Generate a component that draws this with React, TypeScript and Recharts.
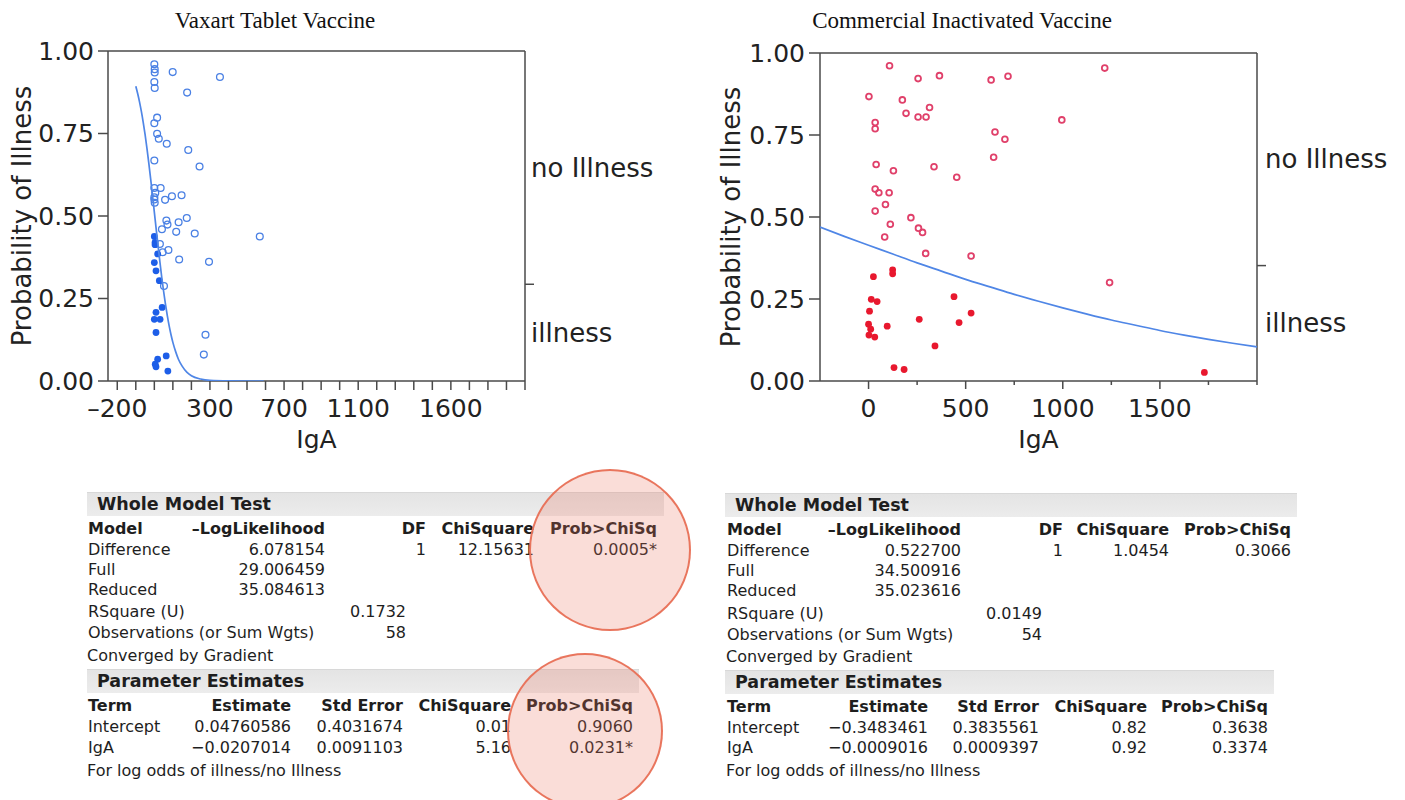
import React from 'react';
import { ScatterChart, Scatter, XAxis, YAxis, ReferenceLine } from 'recharts';

// ---------- DATA ----------
// Vaxart Tablet Vaccine
const vaxOpenIgA = [0, 2, 2, 99, 354, 0, 2, 177, 15, 0, 15, 24, 67, 183, 244, 0, 0, 34, 0, 2, 5, 58, 95, 147, 175, 131, 65, 71, 41, 118, 218, 569, 30, 45, 76, 134, 295, 52, 276, 267, 0];
const vaxOpenProb = [0.96, 0.945, 0.935, 0.936, 0.921, 0.906, 0.888, 0.874, 0.798, 0.781, 0.749, 0.734, 0.719, 0.7, 0.65, 0.668, 0.585, 0.585, 0.557, 0.54, 0.57, 0.549, 0.56, 0.563, 0.494, 0.481, 0.486, 0.474, 0.46, 0.452, 0.447, 0.438, 0.415, 0.39, 0.397, 0.368, 0.361, 0.288, 0.14, 0.08, 0.55];
const vaxFilledIgA = [0, 4, 4, 18, 0, 9, 27, 42, 9, 0, 31, 9, 64, 18, 5, 9, 73];
const vaxFilledProb = [0.438, 0.42, 0.413, 0.385, 0.359, 0.334, 0.304, 0.223, 0.208, 0.187, 0.187, 0.147, 0.076, 0.066, 0.051, 0.043, 0.03];
const vaxCurveIgA = [-100, -90, -80, -70, -60, -50, -40, -30, -20, -10, 0, 10, 20, 30, 40, 50, 60, 70, 80, 90, 100, 115, 130, 150, 175, 200, 250, 300, 400, 500, 590];
const vaxCurveProb = [0.893, 0.871, 0.846, 0.817, 0.784, 0.747, 0.706, 0.661, 0.613, 0.563, 0.512, 0.46, 0.41, 0.361, 0.314, 0.272, 0.233, 0.198, 0.167, 0.14, 0.117, 0.089, 0.066, 0.045, 0.027, 0.016, 0.006, 0.002, 0.0003, 0.0, 0.0];
const vaxXTicks = [-200, -100, 0, 100, 200, 300, 400, 500, 600, 700, 800, 900, 1000, 1100, 1200, 1300, 1400, 1500, 1600, 1700, 1800, 1900, 2000];
const vaxXLabels = [-200, 300, 700, 1100, 1600];
const vaxIllCount = 17;
const vaxTotal = 58;

// Commercial Inactivated Vaccine
const comOpenIgA = [108, 255, 365, 631, 718, 1216, 2, 174, 193, 255, 296, 314, 34, 34, 995, 651, 702, 644, 39, 128, 337, 454, 34, 53, 106, 87, 34, 218, 112, 257, 278, 83, 294, 528, 1241];
const comOpenProb = [0.961, 0.922, 0.931, 0.918, 0.929, 0.954, 0.867, 0.857, 0.816, 0.805, 0.805, 0.834, 0.788, 0.769, 0.796, 0.759, 0.737, 0.682, 0.66, 0.641, 0.653, 0.621, 0.585, 0.574, 0.574, 0.538, 0.518, 0.498, 0.478, 0.466, 0.453, 0.439, 0.389, 0.381, 0.3];
const comFilledIgA = [25, 124, 124, 14, 44, 5, 0, 11, 2, 32, 96, 261, 466, 528, 440, 342, 131, 183, 1729];
const comFilledProb = [0.318, 0.339, 0.327, 0.249, 0.242, 0.213, 0.173, 0.158, 0.14, 0.134, 0.167, 0.188, 0.178, 0.207, 0.257, 0.107, 0.041, 0.035, 0.026];
const comCurveIgA = [-250, -125, 0, 125, 250, 375, 500, 625, 750, 875, 1000, 1125, 1250, 1375, 1500, 1625, 1750, 1875, 2000];
const comCurveProb = [0.469, 0.441, 0.414, 0.387, 0.36, 0.335, 0.31, 0.287, 0.264, 0.243, 0.223, 0.204, 0.186, 0.17, 0.154, 0.14, 0.127, 0.115, 0.104];
const comXTicks = [0, 250, 500, 750, 1000, 1250, 1500, 1750, 2000];
const comXLabels = [0, 500, 1000, 1500];
const comIllCount = 19;
const comTotal = 54;

const probTicks = [0, 0.25, 0.5, 0.75, 1];
const xDomain = [-250, 2000];

// Tables
const vaxWholeModel = [
  ['Difference', '6.078154', '1', '12.15631', '0.0005*'],
  ['Full', '29.006459', '', '', ''],
  ['Reduced', '35.084613', '', '', ''],
];
const vaxFit = [['RSquare (U)', '0.1732'], ['Observations (or Sum Wgts)', '58']];
const vaxParams = [
  ['Intercept', '0.04760586', '0.4031674', '0.01', '0.9060'],
  ['IgA', '\u22120.0207014', '0.0091103', '5.16', '0.0231*'],
];
const comWholeModel = [
  ['Difference', '0.522700', '1', '1.0454', '0.3066'],
  ['Full', '34.500916', '', '', ''],
  ['Reduced', '35.023616', '', '', ''],
];
const comFit = [['RSquare (U)', '0.0149'], ['Observations (or Sum Wgts)', '54']];
const comParams = [
  ['Intercept', '\u22120.3483461', '0.3835561', '0.82', '0.3638'],
  ['IgA', '\u22120.0009016', '0.0009397', '0.92', '0.3374'],
];
const wholeModelHeader = ['Model', '\u2013LogLikelihood', 'DF', 'ChiSquare', 'Prob>ChiSq'];
const paramHeader = ['Term', 'Estimate', 'Std Error', 'ChiSquare', 'Prob>ChiSq'];

// ---------- STYLE ----------
const SANS = '"DejaVu Sans", Verdana, sans-serif';
const AXIS = '#4a4a4a';
const TXT = '#222';
const TICK_FS = 25;

const zip = (xs: number[], ys: number[]) => xs.map((x, i) => ({ x, y: ys[i] }));
const fmtX = (v: number) => (v < 0 ? '\u2013' + Math.abs(v) : String(v));

const makeXTick = (labels: number[], majorLen: number, minorLen: number, labelGap: number) => (props: any) => {
  const { x, y, payload } = props;
  const v = payload.value;
  const major = labels.includes(v);
  return (
    <g>
      <line x1={x} x2={x} y1={y} y2={y + (major ? majorLen : minorLen)} stroke={AXIS} strokeWidth={1.5} />
      {major && (
        <text x={x} y={y + labelGap} textAnchor="middle" dominantBaseline="hanging" fontSize={TICK_FS} fontFamily={SANS} fill={TXT}>
          {fmtX(v)}
        </text>
      )}
    </g>
  );
};

const makeCatTick = (split: number, gap: number) => (props: any) => {
  const { x, y, payload } = props;
  const v = payload.value;
  if (Math.abs(v - split) < 1e-9) {
    return <line x1={x} x2={x + 9} y1={y} y2={y} stroke={AXIS} strokeWidth={1.5} />;
  }
  return (
    <text x={x + gap} y={y} dominantBaseline="central" fontSize={26} fontFamily={SANS} fill={TXT}>
      {v > split ? 'no Illness' : 'illness'}
    </text>
  );
};

type PanelProps = {
  width: number;
  height: number;
  top: number;
  bottom: number;
  leftW: number;
  rightW: number;
  ylabelOffset: number;
  ytickSize: number;
  open: { x: number; y: number }[];
  filled: { x: number; y: number }[];
  curve: { x: number; y: number }[];
  xTicks: number[];
  xLabels: number[];
  majorLen: number;
  minorLen: number;
  illFrac: number;
  openColor: string;
  openR: number;
  openSW: number;
  filledColor: string;
  filledR: number;
  catGap: number;
};

function Panel(p: PanelProps) {
  const catTicks = [p.illFrac / 2, p.illFrac, (1 + p.illFrac) / 2];
  return (
    <ScatterChart width={p.width} height={p.height} margin={{ top: p.top, right: 0, bottom: p.bottom, left: 0 }}>
      <XAxis
        type="number"
        dataKey="x"
        domain={xDomain}
        allowDataOverflow
        ticks={p.xTicks}
        interval={0}
        tickSize={0}
        tickMargin={0}
        tickLine={false}
        tick={makeXTick(p.xLabels, p.majorLen, p.minorLen, 18)}
        axisLine={{ stroke: AXIS, strokeWidth: 1.5 }}
        height={70}
        label={{ value: 'IgA', position: 'insideBottom', offset: 3, style: { fontSize: TICK_FS, fontFamily: SANS, fill: TXT } }}
      />
      <YAxis
        yAxisId="p"
        type="number"
        dataKey="y"
        domain={[0, 1]}
        allowDataOverflow
        ticks={probTicks}
        interval={0}
        tickFormatter={(v: number) => v.toFixed(2)}
        tickSize={p.ytickSize}
        tickMargin={4}
        tick={{ fontSize: TICK_FS, fontFamily: SANS, fill: TXT }}
        tickLine={{ stroke: AXIS, strokeWidth: 1.5 }}
        axisLine={{ stroke: AXIS, strokeWidth: 1.5 }}
        width={p.leftW}
        label={{
          value: 'Probability of Illness',
          angle: -90,
          position: 'insideLeft',
          offset: p.ylabelOffset,
          style: { textAnchor: 'middle', fontSize: 26, fontFamily: SANS, fill: TXT },
        }}
      />
      <YAxis
        yAxisId="cat"
        orientation="right"
        type="number"
        dataKey="y"
        domain={[0, 1]}
        allowDataOverflow
        ticks={catTicks}
        interval={0}
        tickSize={0}
        tickMargin={0}
        tickLine={false}
        tick={makeCatTick(p.illFrac, p.catGap)}
        axisLine={{ stroke: AXIS, strokeWidth: 1.5 }}
        width={p.rightW}
      />
      <ReferenceLine yAxisId="p" y={1} stroke={AXIS} strokeWidth={1.5} />
      <Scatter
        yAxisId="p"
        data={p.open}
        isAnimationActive={false}
        shape={(s: any) => <circle cx={s.cx} cy={s.cy} r={p.openR} fill="none" stroke={p.openColor} strokeWidth={p.openSW} />}
      />
      <Scatter
        yAxisId="p"
        data={p.filled}
        isAnimationActive={false}
        shape={(s: any) => <circle cx={s.cx} cy={s.cy} r={p.filledR} fill={p.filledColor} stroke="none" />}
      />
      <Scatter
        yAxisId="cat"
        data={p.curve}
        isAnimationActive={false}
        line={{ stroke: '#4f86e6', strokeWidth: 1.7, fill: 'none' }}
        lineJointType="monotoneX"
        shape={() => <g />}
      />
    </ScatterChart>
  );
}

// ---------- TABLES ----------
type TableLayout = {
  barLeft: number;
  bar1Top: number;
  bar1W: number;
  bar2Top: number;
  bar2W: number;
  textLeft: number;
  wmCols: number[];
  fitCol: number;
  peCols: number[];
  rowsY: number[];
};

const T_FS = 16;

function Txt({ x, y, children, bold, right, size }: any) {
  const fs = size || (bold ? 16 : T_FS);
  const style: React.CSSProperties = {
    position: 'absolute',
    top: y - 11,
    height: 22,
    lineHeight: '22px',
    fontFamily: SANS,
    fontSize: fs,
    fontWeight: bold ? 'bold' : 'normal',
    color: '#1e1e1e',
    whiteSpace: 'nowrap',
  };
  if (right) {
    style.left = x - 300;
    style.width = 300;
    style.textAlign = 'right';
  } else {
    style.left = x;
  }
  return <div style={style}>{children}</div>;
}

function Bar({ left, top, width, title }: any) {
  return (
    <div
      style={{
        position: 'absolute',
        left,
        top,
        width,
        height: 24,
        background: 'linear-gradient(#e4e4e4, #ececec)',
        borderTop: '1px solid #d8d8d8',
        boxSizing: 'border-box',
      }}
    >
      <div style={{ position: 'absolute', left: 10, top: 0, lineHeight: '23px', fontFamily: SANS, fontWeight: 'bold', fontSize: 17.5, color: '#1e1e1e', whiteSpace: 'nowrap' }}>
        {title}
      </div>
    </div>
  );
}

function StatTable({ L, wm, fit, pe }: { L: TableLayout; wm: string[][]; fit: string[][]; pe: string[][] }) {
  const r = L.rowsY;
  return (
    <>
      <Bar left={L.barLeft} top={L.bar1Top} width={L.bar1W} title="Whole Model Test" />
      <Txt x={L.textLeft} y={r[0]} bold>{wholeModelHeader[0]}</Txt>
      {wholeModelHeader.slice(1).map((h, i) => (
        <Txt key={h} x={L.wmCols[i]} y={r[0]} bold right>{h}</Txt>
      ))}
      {wm.map((row, ri) => (
        <React.Fragment key={row[0]}>
          <Txt x={L.textLeft} y={r[1 + ri]}>{row[0]}</Txt>
          {row.slice(1).map((c, ci) => (c ? <Txt key={ci} x={L.wmCols[ci]} y={r[1 + ri]} right>{c}</Txt> : null))}
        </React.Fragment>
      ))}
      {fit.map((row, ri) => (
        <React.Fragment key={row[0]}>
          <Txt x={L.textLeft} y={r[4 + ri]}>{row[0]}</Txt>
          <Txt x={L.fitCol} y={r[4 + ri]} right>{row[1]}</Txt>
        </React.Fragment>
      ))}
      <Txt x={L.textLeft - 1} y={r[6]}>Converged by Gradient</Txt>
      <Bar left={L.barLeft} top={L.bar2Top} width={L.bar2W} title="Parameter Estimates" />
      <Txt x={L.textLeft} y={r[7]} bold>{paramHeader[0]}</Txt>
      {paramHeader.slice(1).map((h, i) => (
        <Txt key={h} x={L.peCols[i]} y={r[7]} bold right>{h}</Txt>
      ))}
      {pe.map((row, ri) => (
        <React.Fragment key={row[0]}>
          <Txt x={L.textLeft} y={r[8 + ri]}>{row[0]}</Txt>
          {row.slice(1).map((c, ci) => (
            <Txt key={ci} x={L.peCols[ci]} y={r[8 + ri]} right>{c}</Txt>
          ))}
        </React.Fragment>
      ))}
      <Txt x={L.textLeft - 1} y={r[10]}>For log odds of illness/no Illness</Txt>
    </>
  );
}

const leftTable: TableLayout = {
  barLeft: 87,
  bar1Top: 492,
  bar1W: 577,
  bar2Top: 669,
  bar2W: 552,
  textLeft: 88,
  wmCols: [325, 426, 534, 657],
  fitCol: 406,
  peCols: [291, 403, 511, 633],
  rowsY: [529, 550, 570, 590, 612, 633, 656, 706, 727, 748, 771],
};
const rightTable: TableLayout = {
  barLeft: 725,
  bar1Top: 493,
  bar1W: 572,
  bar2Top: 670,
  bar2W: 549,
  textLeft: 727,
  wmCols: [961, 1063, 1169, 1291],
  fitCol: 1042,
  peCols: [928, 1039, 1147, 1268],
  rowsY: [530, 551, 571, 591, 614, 635, 657, 707, 728, 748, 771],
};

function Ring({ cx, cy, r }: { cx: number; cy: number; r: number }) {
  return (
    <div
      style={{
        position: 'absolute',
        left: cx - r,
        top: cy - r,
        width: 2 * r,
        height: 2 * r,
        borderRadius: '50%',
        background: 'rgba(236, 120, 100, 0.25)',
        border: '2px solid rgba(232, 112, 86, 0.95)',
        boxSizing: 'border-box',
      }}
    />
  );
}

export default function App() {
  const titleStyle: React.CSSProperties = {
    position: 'absolute',
    top: 8,
    fontFamily: '"Liberation Serif", "Times New Roman", serif',
    fontSize: 23,
    color: '#111',
    whiteSpace: 'nowrap',
    transform: 'translateX(-50%)',
  };
  return (
    <div style={{ position: 'absolute', left: 0, top: 0, width: 1405, height: 800, background: '#fff', overflow: 'hidden' }}>
      <div style={{ ...titleStyle, left: 275 }}>Vaxart Tablet Vaccine</div>
      <div style={{ ...titleStyle, left: 962 }}>Commercial Inactivated Vaccine</div>

      <div style={{ position: 'absolute', left: 0, top: 0 }}>
        <Panel
          width={700}
          height={470}
          top={51}
          bottom={19}
          leftW={108}
          rightW={175}
          ylabelOffset={22}
          ytickSize={10}
          open={zip(vaxOpenIgA, vaxOpenProb)}
          filled={zip(vaxFilledIgA, vaxFilledProb)}
          curve={zip(vaxCurveIgA, vaxCurveProb)}
          xTicks={vaxXTicks}
          xLabels={vaxXLabels}
          majorLen={9}
          minorLen={9}
          illFrac={vaxIllCount / vaxTotal}
          openColor="#4a80e4"
          openR={3.4}
          openSW={1.3}
          filledColor="#1d5ee8"
          filledR={3.4}
          catGap={6}
        />
      </div>
      <div style={{ position: 'absolute', left: 700, top: 0 }}>
        <Panel
          width={705}
          height={470}
          top={53}
          bottom={19}
          leftW={120}
          rightW={148}
          ylabelOffset={31}
          ytickSize={11}
          open={zip(comOpenIgA, comOpenProb)}
          filled={zip(comFilledIgA, comFilledProb)}
          curve={zip(comCurveIgA, comCurveProb)}
          xTicks={comXTicks}
          xLabels={comXLabels}
          majorLen={8}
          minorLen={4}
          illFrac={comIllCount / comTotal}
          openColor="#e0406a"
          openR={2.9}
          openSW={1.8}
          filledColor="#e8182e"
          filledR={3.4}
          catGap={8}
        />
      </div>

      <StatTable L={leftTable} wm={vaxWholeModel} fit={vaxFit} pe={vaxParams} />
      <StatTable L={rightTable} wm={comWholeModel} fit={comFit} pe={comParams} />

      <Ring cx={610} cy={550} r={81} />
      <Ring cx={585} cy={731} r={78} />
    </div>
  );
}
